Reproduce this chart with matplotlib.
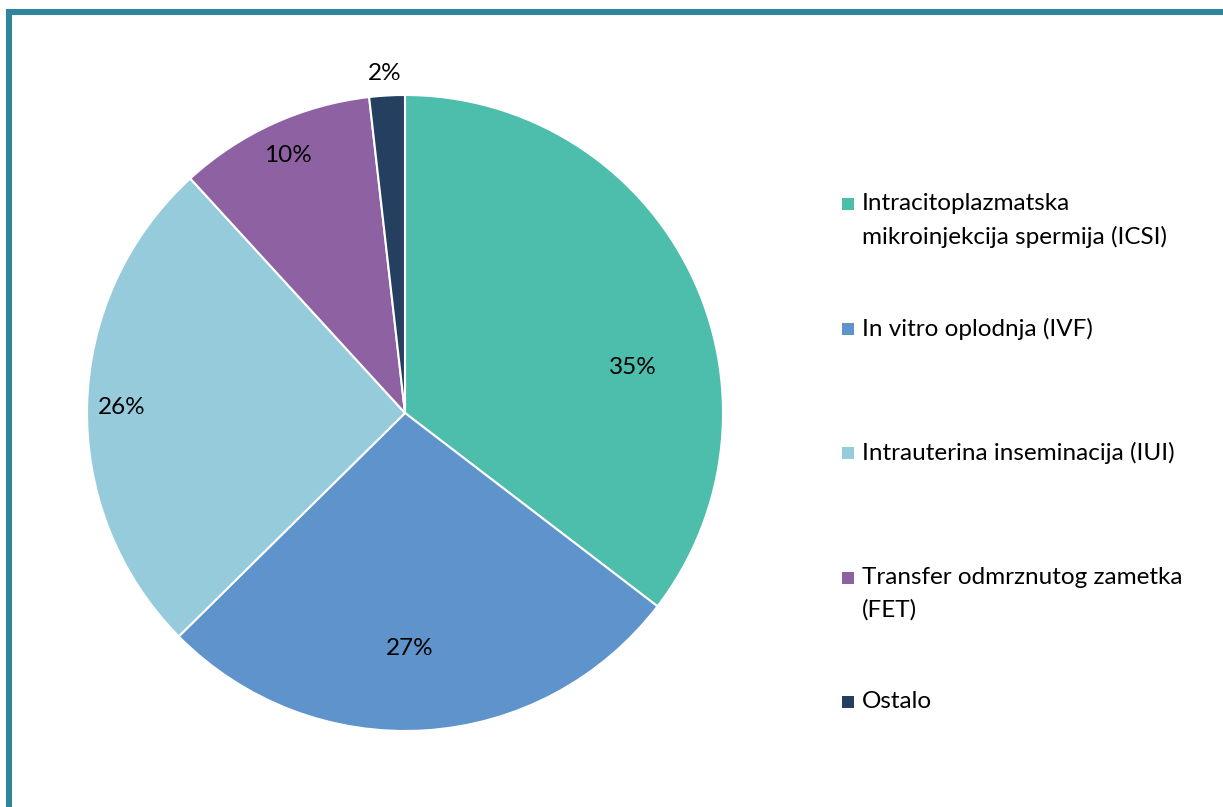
import matplotlib.pyplot as plt
import matplotlib.patches as patches
import numpy as np

plt.rcParams['font.family'] = ['Lato', 'DejaVu Sans']

categories = ['Intracitoplazmatska\nmikroinjekcija spermija (ICSI)',
              'In vitro oplodnja (IVF)',
              'Intrauterina inseminacija (IUI)',
              'Transfer odmrznutog zametka\n(FET)',
              'Ostalo']
shares = [35.4, 27.2, 25.6, 10.0, 1.8]
pct_labels = ['35%', '27%', '26%', '10%', '2%']
colors = ['#4dbdac', '#5e93cb', '#96cbdc', '#8e62a2', '#243f60']

# where Excel put the percent labels (radius, angle in degrees)
label_r = [0.73, 0.74, 0.89, 0.89, 1.07]
label_ang = [11.4, -88.8, 178.8, 114.5, 93.4]

W, H = 1223, 807
fig = plt.figure(figsize=(W / 100, H / 100), dpi=100)

# frame (only top and left visible in the original)
fig.patches.append(patches.Rectangle((9 / W, -0.1), 1.2, 1 - 12 / H + 0.1,
                                     transform=fig.transFigure, fill=False,
                                     edgecolor='#31849b', linewidth=4.4))

cx, cy, r = 405, 413, 318
ax = fig.add_axes([(cx - r) / W, (H - cy - r) / H, 2 * r / W, 2 * r / H])
wedges, _ = ax.pie(shares, colors=colors, startangle=90, counterclock=False,
                   radius=1, wedgeprops=dict(edgecolor='white', linewidth=1.5))
ax.set_xlim(-1, 1)
ax.set_ylim(-1, 1)
ax.set_aspect('equal')
ax.axis('off')

for lab, rr, a in zip(pct_labels, label_r, label_ang):
    t = np.deg2rad(a)
    ax.text(rr * np.cos(t), rr * np.sin(t), lab, ha='center', va='center',
            fontsize=17.5, color='black')

# legend drawn by hand so the marker sits on the first line
for i, (name, c) in enumerate(zip(categories, colors)):
    y = 204 + i * 124.5
    fig.patches.append(patches.Rectangle((842 / W, 1 - (y + 6) / H), 12 / W, 12 / H,
                                         transform=fig.transFigure, facecolor=c,
                                         edgecolor='none'))
    fig.text(862 / W, 1 - (y - 11) / H, name, ha='left', va='top',
             fontsize=17.5, linespacing=1.65, color='black')

fig.savefig('out.png', dpi=100)
